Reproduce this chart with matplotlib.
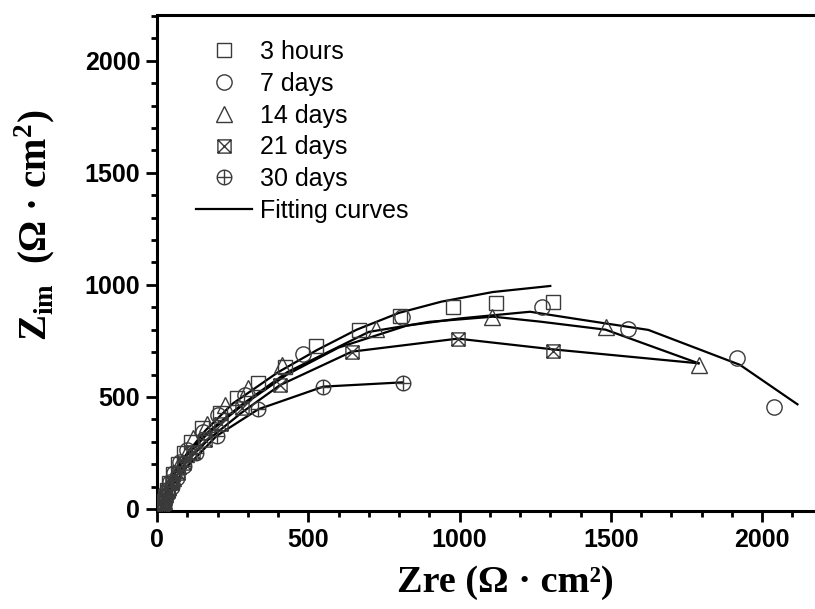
# coding=utf-8
"""
Nyquist plot of EIS spectra after different immersion times, with fitted curves.
"""
import matplotlib
matplotlib.use("Agg")
import matplotlib.pyplot as plt
from matplotlib.path import Path
from matplotlib.ticker import MultipleLocator

# ---- data ----
labels = ["3 hours", "7 days", "14 days", "21 days", "30 days"]

zre_3h = [18, 22, 26, 32, 40, 52, 68, 88, 112, 150, 208, 265, 334, 423, 526, 668, 803, 977, 1121, 1308]
zim_3h = [12, 35, 58, 85, 115, 155, 200, 250, 300, 360, 427, 495, 562, 635, 727, 799, 861, 900, 921, 925]

zre_7d = [18, 21, 26, 33, 43, 56, 76, 100, 153, 200, 291, 482, 809, 1272, 1556, 1918, 2040]
zim_7d = [10, 30, 55, 85, 120, 160, 210, 265, 345, 420, 509, 692, 858, 900, 802, 672, 456]

zre_14d = [18, 22, 28, 38, 52, 70, 95, 119, 165, 225, 300, 412, 723, 1106, 1483, 1790]
zim_14d = [10, 35, 65, 100, 140, 190, 245, 317, 380, 464, 540, 643, 802, 858, 811, 643]

zre_21d = [18, 22, 28, 38, 50, 68, 90, 120, 160, 210, 280, 407, 644, 994, 1310]
zim_21d = [8, 25, 50, 80, 115, 160, 205, 255, 310, 380, 450, 553, 702, 757, 706]

zre_30d = [18, 22, 28, 36, 48, 65, 90, 130, 197, 335, 550, 812]
zim_30d = [5, 20, 40, 65, 100, 140, 190, 250, 326, 445, 546, 561]

# fitted curves
fit_zre_3h = [15, 30, 60, 100, 160, 250, 400, 530, 660, 800, 940, 1110, 1300]
fit_zim_3h = [10, 80, 170, 250, 350, 470, 610, 710, 800, 875, 925, 968, 995]

fit_zre_7d = [15, 30, 60, 100, 170, 280, 430, 600, 825, 1000, 1233, 1400, 1624, 1927, 2117]
fit_zim_7d = [10, 70, 160, 240, 340, 460, 600, 720, 818, 850, 880, 845, 799, 643, 467]

fit_zre_14d = [15, 30, 60, 100, 170, 280, 430, 700, 900, 1111, 1266, 1483, 1790]
fit_zim_14d = [10, 75, 165, 245, 345, 465, 610, 790, 835, 858, 836, 800, 650]

fit_zre_21d = [15, 30, 60, 100, 170, 280, 407, 644, 994, 1310, 1790]
fit_zim_21d = [8, 60, 140, 215, 310, 430, 553, 702, 760, 712, 650]

fit_zre_30d = [15, 30, 60, 100, 197, 335, 550, 812]
fit_zim_30d = [5, 50, 120, 190, 326, 445, 546, 565]


def box_cross():
    verts = [(-1, -1), (1, -1), (1, 1), (-1, 1), (-1, -1),
             (-1, -1), (1, 1), (-1, 1), (1, -1)]
    codes = [Path.MOVETO, Path.LINETO, Path.LINETO, Path.LINETO, Path.CLOSEPOLY,
             Path.MOVETO, Path.LINETO, Path.MOVETO, Path.LINETO]
    return Path(verts, codes)


def circle_plus():
    return Path.make_compound_path(
        Path.unit_circle(),
        Path([(-1, 0), (1, 0)], [Path.MOVETO, Path.LINETO]),
        Path([(0, -1), (0, 1)], [Path.MOVETO, Path.LINETO]))


def main():
    plt.rcParams["font.family"] = "Liberation Sans"
    plt.rcParams["mathtext.fontset"] = "custom"
    plt.rcParams["mathtext.rm"] = "Liberation Serif:bold"
    plt.rcParams["mathtext.bf"] = "Liberation Serif:bold"

    fig = plt.figure(figsize=(8.15, 6.09), dpi=100)
    ax = fig.add_axes([157 / 815, 98 / 609, 658 / 815, 496 / 609])

    fits = [(fit_zre_3h, fit_zim_3h), (fit_zre_7d, fit_zim_7d),
            (fit_zre_14d, fit_zim_14d), (fit_zre_21d, fit_zim_21d),
            (fit_zre_30d, fit_zim_30d)]
    for fx, fy in fits:
        ax.plot(fx, fy, color="black", lw=1.6, zorder=3)

    mk_color = "#3a3a3a"
    series = [(zre_3h, zim_3h, "s", 10),
              (zre_7d, zim_7d, "o", 11),
              (zre_14d, zim_14d, "^", 12),
              (zre_21d, zim_21d, box_cross(), 9.5),
              (zre_30d, zim_30d, circle_plus(), 10.5)]
    handles = []
    for (x, y, m, ms), lab in zip(series, labels):
        h, = ax.plot(x, y, linestyle="none", marker=m, markersize=ms,
                     markerfacecolor="none", markeredgecolor=mk_color,
                     markeredgewidth=1.0, label=lab, zorder=4)
        handles.append(h)
    fit_handle, = ax.plot([], [], color="black", lw=1.6, label="Fitting curves")
    handles.append(fit_handle)

    ax.set_xlim(0, 2175)
    ax.set_ylim(-9, 2204)
    ax.xaxis.set_major_locator(MultipleLocator(500))
    ax.xaxis.set_minor_locator(MultipleLocator(100))
    ax.yaxis.set_major_locator(MultipleLocator(500))
    ax.yaxis.set_minor_locator(MultipleLocator(100))

    for side in ["left", "bottom", "top"]:
        ax.spines[side].set_linewidth(2.2)
    ax.spines["right"].set_visible(False)
    ax.tick_params(which="major", direction="out", length=8, width=2,
                   labelsize=18, pad=4)
    ax.tick_params(which="minor", direction="out", length=4.5, width=2)
    ax.tick_params(top=False, right=False, which="both")
    for t in ax.get_xticklabels() + ax.get_yticklabels():
        t.set_fontweight("bold")

    ax.set_xlabel("Zre (Ω · cm²)", family="Liberation Serif",
                  fontweight="bold", fontsize=27.5)
    ax.xaxis.set_label_coords(348 / 658, -54 / 496)
    ax.set_ylabel(r"Z$_{\mathbf{im}}$  (Ω · cm$^{\mathbf{2}}$)",
                  family="Liberation Serif", fontweight="bold", fontsize=28)
    ax.yaxis.set_label_coords(-99 / 658, 286 / 496)

    ax.legend(handles=handles, loc="upper left", frameon=False,
              fontsize=18, handlelength=2.25, handletextpad=0.33,
              labelspacing=0.31, borderaxespad=0,
              bbox_to_anchor=(29 / 658, 1 - 15 / 496))

    fig.savefig("out.png", dpi=100)


if __name__ == '__main__':
    main()
